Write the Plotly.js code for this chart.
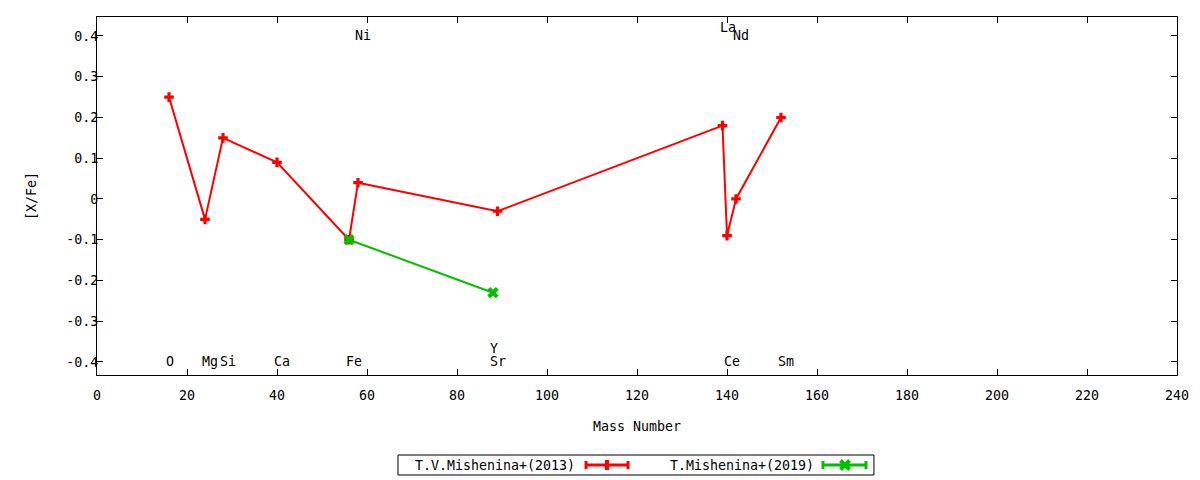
<!DOCTYPE html>
<html>
<head>
<meta charset="utf-8">
<script src="https://cdn.plot.ly/plotly-3.0.1.min.js"></script>
<style>
html,body{margin:0;padding:0;background:#fff;}
#chart{width:1200px;height:480px;}
</style>
</head>
<body>
<div id="chart"></div>
<script>
// Data
const series1Name = "T.V.Mishenina+(2013)";
const series1Mass = [16, 24, 28, 40, 56, 58, 89, 139, 140, 142, 152];
const series1Value = [0.25, -0.05, 0.15, 0.09, -0.10, 0.04, -0.03, 0.18, -0.09, 0.00, 0.20];

const series2Name = "T.Mishenina+(2019)";
const series2Mass = [56, 88];
const series2Value = [-0.10, -0.23];

const elementNames = ["O", "Mg", "Si", "Ca", "Fe", "Ni", "Sr", "Y", "La", "Ce", "Nd", "Sm"];
const elementMass  = [16, 24, 28, 40, 56, 58, 88, 88, 139, 140, 142, 152];
const elementLabelY = [-0.4, -0.4, -0.4, -0.4, -0.4, 0.4, -0.4, -0.366, 0.421, -0.4, 0.4, -0.4];

const xTickVals = [0, 20, 40, 60, 80, 100, 120, 140, 160, 180, 200, 220, 240];
const yTickVals = [-0.4, -0.3, -0.2, -0.1, 0, 0.1, 0.2, 0.3, 0.4];
const yTickText = ["-0.4", "-0.3", "-0.2", "-0.1", "0", "0.1", "0.2", "0.3", "0.4"];

const FONT = "DejaVu Sans Mono";
const FS = 13.3;
const RED = "#ff0000";
const GREEN = "#00c000";

const traces = [
  {
    x: series1Mass, y: series1Value, name: series1Name,
    type: "scatter", mode: "lines+markers",
    line: {color: RED, width: 2},
    marker: {symbol: "cross", size: 8, color: RED},
    showlegend: false, hoverinfo: "skip"
  },
  {
    x: series2Mass, y: series2Value, name: series2Name,
    type: "scatter", mode: "lines+markers",
    line: {color: GREEN, width: 2},
    marker: {symbol: "x", size: 10, color: GREEN},
    showlegend: false, hoverinfo: "skip"
  }
];

const annotations = elementNames.map((n, i) => ({
  x: elementMass[i], y: elementLabelY[i], xref: "x", yref: "y",
  text: n, showarrow: false, xanchor: "left", yanchor: "middle",
  xshift: -5, font: {family: FONT, size: FS, color: "#000"}
}));

// custom gnuplot-like legend (paper coordinates)
const legY = -0.2514;
annotations.push({x: 0.4444, y: legY, xref: "paper", yref: "paper", text: series1Name,
  showarrow: false, xanchor: "right", yanchor: "middle", font: {family: FONT, size: FS, color: "#000"}});
annotations.push({x: 0.6657, y: legY, xref: "paper", yref: "paper", text: series2Name,
  showarrow: false, xanchor: "right", yanchor: "middle", font: {family: FONT, size: FS, color: "#000"}});

function seg(x0, y0, x1, y1, color, w) {
  return {type: "line", xref: "paper", yref: "paper", x0, y0, x1, y1, line: {color, width: w}};
}
const capH = 0.0112;
const shapes = [
  {type: "rect", xref: "paper", yref: "paper", x0: 0.2787, x1: 0.7194, y0: -0.2235, y1: -0.2793,
   line: {color: "#000", width: 1}, fillcolor: "rgba(0,0,0,0)"},
  // red legend sample
  seg(0.4528, legY, 0.4917, legY, RED, 3),
  seg(0.4528, legY - capH, 0.4528, legY + capH, RED, 3),
  seg(0.4917, legY - capH, 0.4917, legY + capH, RED, 3),
  seg(0.4722, legY - 0.014, 0.4722, legY + 0.014, RED, 4),
  // green legend sample
  seg(0.6722, legY, 0.7120, legY, GREEN, 3),
  seg(0.6722, legY - capH, 0.6722, legY + capH, GREEN, 3),
  seg(0.7120, legY - capH, 0.7120, legY + capH, GREEN, 3),
  seg(0.6926 - 0.0042, legY - 0.0126, 0.6926 + 0.0042, legY + 0.0126, GREEN, 4),
  seg(0.6926 - 0.0042, legY + 0.0126, 0.6926 + 0.0042, legY - 0.0126, GREEN, 4)
];

const layout = {
  width: 1200, height: 480,
  margin: {l: 97, r: 23, t: 17, b: 105},
  paper_bgcolor: "#fff", plot_bgcolor: "#fff",
  font: {family: FONT, size: FS, color: "#000"},
  showlegend: false,
  xaxis: {
    range: [0, 240], tickvals: xTickVals,
    showgrid: false, zeroline: false,
    showline: true, linecolor: "#000", linewidth: 1, mirror: "ticks",
    ticks: "inside", ticklen: 6, tickcolor: "#000", tickwidth: 1,
    ticklabelstandoff: 8,
    tickfont: {family: FONT, size: FS, color: "#000"},
    title: {text: "Mass Number", font: {family: FONT, size: FS, color: "#000"}, standoff: 19}
  },
  yaxis: {
    range: [-0.432, 0.4466], tickvals: yTickVals, ticktext: yTickText,
    showgrid: false, zeroline: false,
    showline: true, linecolor: "#000", linewidth: 1, mirror: "ticks",
    ticks: "inside", ticklen: 6, tickcolor: "#000", tickwidth: 1,
    ticklabelstandoff: -5,
    tickfont: {family: FONT, size: FS, color: "#000"},
    title: {text: "[X/Fe]", font: {family: FONT, size: FS, color: "#000"}, standoff: 26}
  },
  annotations: annotations,
  shapes: shapes
};

Plotly.newPlot("chart", traces, layout, {staticPlot: true, displayModeBar: false});
</script>
</body>
</html>
